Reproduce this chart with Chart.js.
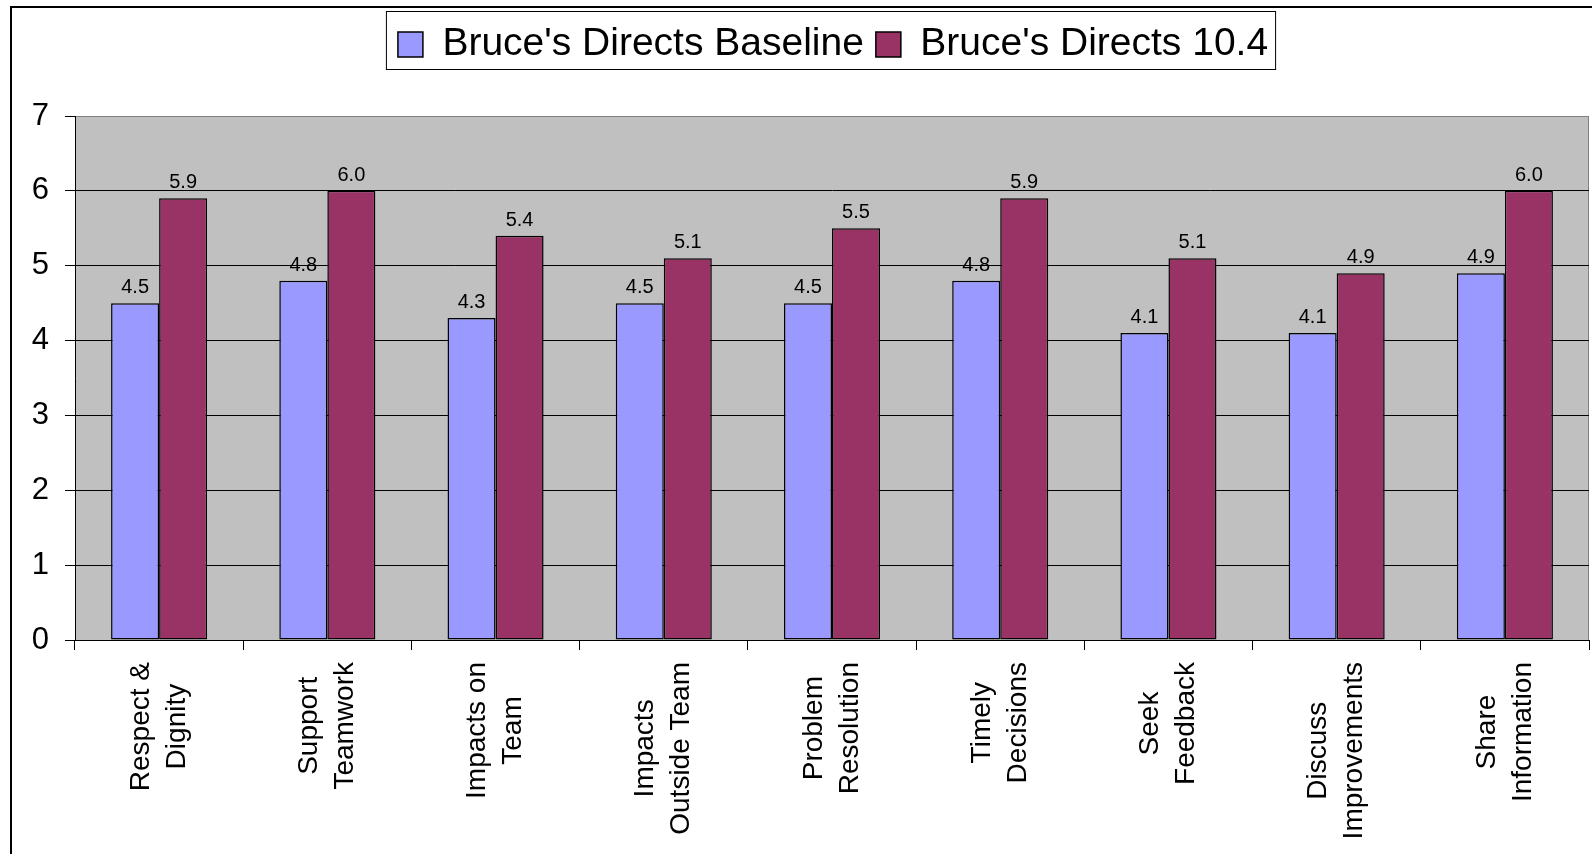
<!DOCTYPE html>
<html>
<head>
<meta charset="utf-8">
<script src="https://cdn.jsdelivr.net/npm/chart.js@4.4.1/dist/chart.umd.min.js"></script>
<style>
  body { margin: 0; background: #fff; }
  canvas { display: block; }
</style>
</head>
<body>
<canvas id="chart" width="1592" height="854"></canvas>
<script>
// Data
const categories = [
    ['Respect &', 'Dignity'],
    ['Support', 'Teamwork'],
    ['Impacts on', 'Team'],
    ['Impacts', 'Outside Team'],
    ['Problem', 'Resolution'],
    ['Timely', 'Decisions'],
    ['Seek', 'Feedback'],
    ['Discuss', 'Improvements'],
    ['Share', 'Information']
];
const seriesNames = ["Bruce's Directs Baseline", "Bruce's Directs 10.4"];
const baseline = [4.5, 4.8, 4.3, 4.5, 4.5, 4.8, 4.1, 4.1, 4.9];
const current = [5.9, 6.0, 5.4, 5.1, 5.5, 5.9, 5.1, 4.9, 6.0];
const yTicks = [0, 1, 2, 3, 4, 5, 6, 7];

const FONT = "'Liberation Sans', Arial, sans-serif";

// grey plot area + outer frame
const plotBackground = {
    id: 'plotBackground',
    beforeDraw(chart) {
        const { ctx, chartArea: a } = chart;
        ctx.save();
        ctx.fillStyle = '#c0c0c0';
        ctx.fillRect(a.left, a.top, a.right - a.left, a.bottom - a.top);
        ctx.strokeStyle = '#808080';
        ctx.lineWidth = 1;
        ctx.strokeRect(a.left + 0.5, a.top + 0.5, a.right - a.left - 1, a.bottom - a.top);
        ctx.restore();
    },
    afterDraw(chart) {
        const ctx = chart.ctx;
        ctx.save();
        ctx.strokeStyle = '#000';
        ctx.lineWidth = 2;
        ctx.beginPath();
        ctx.moveTo(11, chart.height);
        ctx.lineTo(11, 7);
        ctx.lineTo(chart.width, 7);
        ctx.stroke();
        ctx.restore();
    }
};

// nudge legend right and draw a frame round it
const legendFrame = {
    id: 'legendFrame',
    afterLayout(chart) {
        chart.legend.left += 33;
        chart.legend.right += 33;
    },
    afterDraw(chart) {
        const boxes = chart.legend.legendHitBoxes;
        if (!boxes || !boxes.length) return;
        const first = boxes[0];
        const last = boxes[boxes.length - 1];
        const ctx = chart.ctx;
        const left = first.left - 12;
        const right = last.left + last.width + 7;
        const top = first.top - 14;
        const bottom = first.top + first.height + 5;
        ctx.save();
        ctx.strokeStyle = '#000';
        ctx.lineWidth = 1;
        ctx.strokeRect(left + 0.5, top + 0.5, right - left, bottom - top);
        ctx.restore();
    }
};

// value labels above bars
const valueLabels = {
    id: 'valueLabels',
    afterDatasetsDraw(chart) {
        const ctx = chart.ctx;
        ctx.save();
        ctx.font = '20px ' + FONT;
        ctx.fillStyle = '#000';
        ctx.textAlign = 'center';
        ctx.textBaseline = 'alphabetic';
        chart.data.datasets.forEach((ds, di) => {
            chart.getDatasetMeta(di).data.forEach((bar, i) => {
                ctx.fillText(ds.data[i].toFixed(1), bar.x, bar.y - 10);
            });
        });
        ctx.restore();
    }
};

// rotated category labels, lines centred on each other
const categoryLabels = {
    id: 'categoryLabels',
    afterDraw(chart) {
        const { ctx, chartArea } = chart;
        const xScale = chart.scales.x;
        const lineGap = 36;
        ctx.save();
        ctx.font = '28px ' + FONT;
        ctx.fillStyle = '#000';
        ctx.textAlign = 'center';
        ctx.textBaseline = 'middle';
        categories.forEach((lines, i) => {
            const w = Math.max(...lines.map(l => ctx.measureText(l).width));
            const x = xScale.getPixelForValue(i);
            const y = chartArea.bottom + 22 + w / 2;
            ctx.save();
            ctx.translate(x, y);
            ctx.rotate(-Math.PI / 2);
            lines.forEach((l, j) => {
                ctx.fillText(l, 0, (j - (lines.length - 1) / 2) * lineGap);
            });
            ctx.restore();
        });
        ctx.restore();
    }
};

new Chart(document.getElementById('chart'), {
    type: 'bar',
    data: {
        labels: categories,
        datasets: [
            {
                label: seriesNames[0],
                data: baseline,
                backgroundColor: '#9999ff',
                borderColor: '#000',
                borderWidth: 1.5,
                borderSkipped: false,
                categoryPercentage: 0.571,
                barPercentage: 1.0
            },
            {
                label: seriesNames[1],
                data: current,
                backgroundColor: '#993366',
                borderColor: '#000',
                borderWidth: 1.5,
                borderSkipped: false,
                categoryPercentage: 0.571,
                barPercentage: 1.0
            }
        ]
    },
    options: {
        responsive: false,
        animation: false,
        layout: {
            padding: { top: 13, left: 11, right: 3, bottom: 204 }
        },
        plugins: {
            legend: {
                position: 'top',
                weight: 3000,
                labels: {
                    font: { family: FONT, size: 39 },
                    color: '#000',
                    boxWidth: 25,
                    boxHeight: 25,
                    padding: 12,
                    useBorderRadius: false
                }
            },
            // empty title used as spacing between legend and plot
            title: {
                display: true,
                text: '',
                font: { size: 10 },
                padding: { top: 0, bottom: 30 }
            },
            tooltip: { enabled: false }
        },
        scales: {
            x: {
                grid: {
                    display: true,
                    drawOnChartArea: false,
                    drawTicks: true,
                    tickLength: 10,
                    tickColor: '#000',
                    offset: true
                },
                border: { color: '#000', width: 1 },
                ticks: { display: false }
            },
            y: {
                min: yTicks[0],
                max: yTicks[yTicks.length - 1],
                afterBuildTicks: (scale) => {
                    scale.ticks = yTicks.map(v => ({ value: v }));
                },
                afterFit: (scale) => {
                    scale.width = 64;
                },
                ticks: {
                    font: { family: FONT, size: 31 },
                    color: '#000',
                    padding: 16
                },
                grid: {
                    color: (ctx) => (ctx.tick && ctx.tick.value === 7) ? '#808080' : '#000',
                    tickColor: '#000',
                    tickLength: 10,
                    lineWidth: 1
                },
                border: { color: '#000', width: 1 }
            }
        }
    },
    plugins: [plotBackground, legendFrame, valueLabels, categoryLabels]
});
</script>
</body>
</html>
